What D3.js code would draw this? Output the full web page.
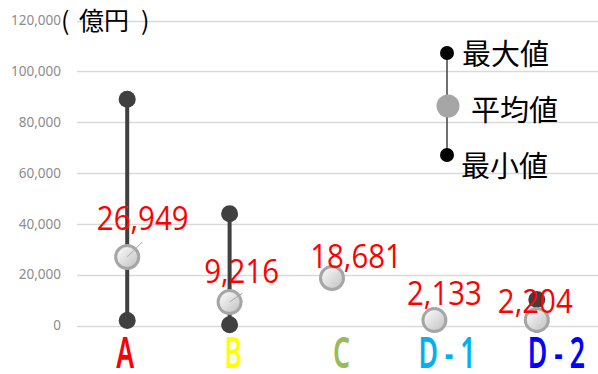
<!DOCTYPE html>
<html><head><meta charset="utf-8">
<script src="https://cdn.jsdelivr.net/npm/d3@7"></script>
<style>html,body{margin:0;padding:0;background:#fff;}svg{display:block;}</style>
</head><body><svg id="c" width="598" height="374"></svg>
<script>
const categories = ["A", "B", "C", "D - 1", "D - 2"];
const catColors = ["#ff0000", "#ffff00", "#9bbb59", "#00b0f0", "#0000ff"];
const maxValues = [89000, 44000, null, null, 10200];
const minValues = [2000, 300, null, null, 500];
const avgValues = [26949, 9216, 18681, 2133, 2204];
const avgLabels = ["26,949", "9,216", "18,681", "2,133", "2,204"];
const yTicks = [0, 20000, 40000, 60000, 80000, 100000, 120000];
const unitParts = ["(", "億円", ")"];
const legendLabels = ["最大値", "平均値", "最小値"];
// layout offsets (px)
const labelDx = [15.5, 12, 24, 10, -1.5];
const labelDy = [-27, -19, -10, -15, -7];
const catDx = [-11, -5, 1, -16, -9];
const unitX = [61, 79, 141];

const svg = d3.select("#c");
const x = d3.scaleBand().domain(categories).range([76, 588]);
const y = d3.scaleLinear().domain([0, 120000]).range([325.5, 20.5]);

const defs = svg.append("defs");
const g = defs.append("linearGradient").attr("id", "avgGrad").attr("x1", "0").attr("y1", "0").attr("x2", "1").attr("y2", "1");
g.append("stop").attr("offset", "0%").attr("stop-color", "#ffffff");
g.append("stop").attr("offset", "100%").attr("stop-color", "#bfbfbf");

// grid
svg.append("g").selectAll("line").data(yTicks).join("line")
  .attr("x1", 77).attr("x2", 598).attr("y1", d => Math.round(y(d)) + 0.5).attr("y2", d => Math.round(y(d)) + 0.5)
  .attr("stroke", "#d9d9d9").attr("stroke-width", 1.3);

const yAxis = svg.append("g").attr("transform", "translate(61,0)")
  .call(d3.axisLeft(y).tickValues(yTicks).tickSize(0).tickPadding(0).tickFormat(d3.format(",")));
yAxis.select(".domain").remove();
yAxis.selectAll("text").attr("fill", "#8c8c8c").attr("font-size", "13.5px").attr("font-family", "'Noto Sans', sans-serif");

const cx = d => x(d) + x.bandwidth() / 2;
const idx = categories.map((c, i) => i);

// whiskers
svg.append("g").selectAll("line").data(idx.filter(i => maxValues[i] != null)).join("line")
  .attr("x1", i => cx(categories[i])).attr("x2", i => cx(categories[i]))
  .attr("y1", i => y(maxValues[i])).attr("y2", i => y(minValues[i]))
  .attr("stroke", "#404040").attr("stroke-width", 4);
svg.append("g").selectAll("circle").data(idx.filter(i => maxValues[i] != null)).join("circle")
  .attr("cx", i => cx(categories[i])).attr("cy", i => y(maxValues[i])).attr("r", 8.5).attr("fill", "#404040");
svg.append("g").selectAll("circle").data(idx.filter(i => minValues[i] != null)).join("circle")
  .attr("cx", i => cx(categories[i])).attr("cy", i => y(minValues[i])).attr("r", 8.5).attr("fill", "#404040");

// averages
svg.append("g").selectAll("circle").data(idx).join("circle")
  .attr("cx", i => cx(categories[i])).attr("cy", i => y(avgValues[i])).attr("r", 11.5)
  .attr("fill", "url(#avgGrad)").attr("stroke", "#a6a6a6").attr("stroke-width", 3);

// leader lines
const leadLen = [[15, -15], [13, -9]];
svg.append("g").selectAll("line").data([0, 1]).join("line")
  .attr("x1", i => cx(categories[i])).attr("y1", i => y(avgValues[i]))
  .attr("x2", i => cx(categories[i]) + leadLen[i][0]).attr("y2", i => y(avgValues[i]) + leadLen[i][1])
  .attr("stroke", "#a6a6a6").attr("stroke-width", 1);

// avg labels
svg.append("g").selectAll("text").data(idx).join("text")
  .attr("transform", i => `translate(${cx(categories[i]) + labelDx[i]},${y(avgValues[i]) + labelDy[i]}) scale(0.92,1)`)
  .attr("text-anchor", "middle").attr("fill", "#ff0000")
  .attr("font-family", "'Open Sans', 'Noto Sans', sans-serif").attr("font-size", "32px")
  .text(i => avgLabels[i]);

// category labels
svg.append("g").selectAll("text").data(idx).join("text")
  .attr("transform", i => `translate(${cx(categories[i]) + catDx[i]},368) scale(0.62,1)`)
  .attr("fill", i => catColors[i])
  .attr("font-family", "'Noto Sans', sans-serif").attr("font-size", "43px").attr("font-weight", "600")
  .style("white-space", "pre")
  .text(i => categories[i]);

// unit
const unit = svg.append("text").attr("y", 30).attr("font-family", "'Noto Sans CJK JP', sans-serif")
  .attr("font-size", "25px").attr("fill", "#000");
unit.selectAll("tspan").data(unitParts).join("tspan").attr("x", (d, i) => unitX[i]).text(d => d);

// legend
const lx = 447;
svg.append("line").attr("x1", lx).attr("x2", lx).attr("y1", 53).attr("y2", 155).attr("stroke", "#404040").attr("stroke-width", 1.5);
svg.append("circle").attr("cx", lx).attr("cy", 53).attr("r", 7).attr("fill", "#000");
svg.append("circle").attr("cx", 448).attr("cy", 106).attr("r", 11.5).attr("fill", "#a6a6a6");
svg.append("circle").attr("cx", lx).attr("cy", 155).attr("r", 7).attr("fill", "#000");
const legPos = [[462, 65], [471, 121], [461, 177]];
svg.append("g").selectAll("text").data(legendLabels).join("text")
  .attr("x", (d, i) => legPos[i][0]).attr("y", (d, i) => legPos[i][1])
  .attr("font-family", "'Noto Sans CJK JP', sans-serif").attr("font-size", "29px").attr("fill", "#000")
  .text(d => d);
</script></body></html>
